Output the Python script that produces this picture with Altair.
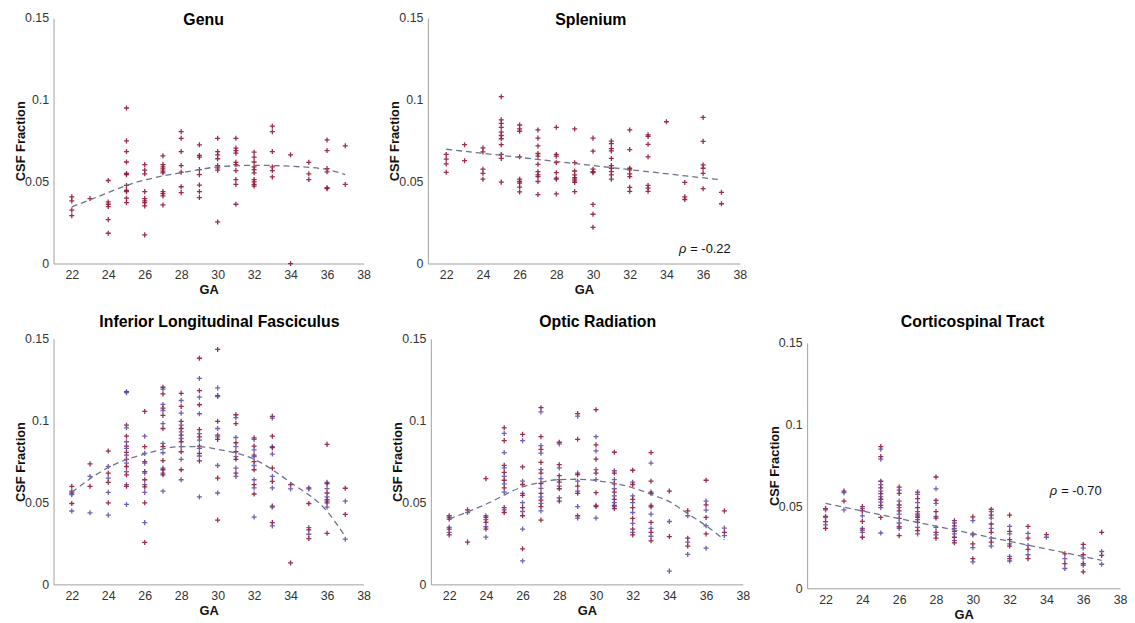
import altair as alt
import pandas as pd

GA_TICKS = list(range(22, 39, 2))
Y_TICKS = [0, 0.05, 0.1, 0.15]

RED = "#921739"
PURPLE = "#6350a6"
FIT_COLOR = "#6b7390"
PLUS = "M-1,0L1,0M0,-1L0,1"
FONT = "Liberation Sans"

# ---------------- data ----------------
GENU = {
    22: [0.0407, 0.0382, 0.0326, 0.0292],
    23: [0.0397],
    24: [0.0507, 0.0376, 0.0362, 0.0348, 0.0268, 0.0185],
    25: [0.095, 0.0749, 0.0684, 0.062, 0.055, 0.0543, 0.0477, 0.0447, 0.0439, 0.0399, 0.0372],
    26: [0.0604, 0.057, 0.0548, 0.0439, 0.0397, 0.0382, 0.0372, 0.0352, 0.0175],
    27: [0.0658, 0.0604, 0.059, 0.0578, 0.0564, 0.0554, 0.0439, 0.0427, 0.0413, 0.0358],
    28: [0.0805, 0.0765, 0.0684, 0.0598, 0.0558, 0.0469, 0.0433],
    29: [0.0725, 0.066, 0.065, 0.0574, 0.0543, 0.0479, 0.0439, 0.0403],
    30: [0.0765, 0.0684, 0.0664, 0.064, 0.0598, 0.0584, 0.057, 0.0254],
    31: [0.0765, 0.0705, 0.069, 0.0674, 0.0618, 0.0604, 0.0568, 0.0513, 0.0483, 0.0362],
    32: [0.068, 0.065, 0.062, 0.059, 0.0574, 0.0554, 0.0513, 0.0499, 0.0483, 0.0473],
    33: [0.0839, 0.0805, 0.0684, 0.059, 0.0568, 0.0529],
    34: [0.0664, 0.0],
    35: [0.0618, 0.0548, 0.0513],
    36: [0.0755, 0.069, 0.058, 0.056, 0.0463, 0.0457],
    37: [0.0719, 0.0483],
}
GENU_FIT_GA = [22, 24, 25, 27, 28, 30, 32, 34, 36, 37]
GENU_FIT = [0.0346, 0.0433, 0.0477, 0.0535, 0.0554, 0.059, 0.060, 0.0594, 0.0574, 0.0543]

SPLENIUM = {
    22: [0.0666, 0.0638, 0.0608, 0.0557],
    23: [0.0726, 0.0628],
    24: [0.0706, 0.0682, 0.0576, 0.0551, 0.0515],
    25: [0.1019, 0.0878, 0.0856, 0.0832, 0.0802, 0.0782, 0.0762, 0.0726, 0.0666, 0.0642, 0.0497],
    26: [0.0846, 0.0822, 0.0808, 0.0652, 0.0515, 0.0501, 0.0491, 0.0467, 0.0437],
    27: [0.0816, 0.0766, 0.0718, 0.0672, 0.0656, 0.0606, 0.0561, 0.0541, 0.0531, 0.0501, 0.0421],
    28: [0.0832, 0.0666, 0.0656, 0.0616, 0.0555, 0.0521, 0.0515, 0.0425],
    29: [0.0822, 0.0616, 0.0565, 0.0541, 0.0525, 0.0515, 0.0505, 0.0495, 0.0439],
    30: [0.0766, 0.0686, 0.0576, 0.0561, 0.0555, 0.0361, 0.0301, 0.0221],
    31: [0.0748, 0.0732, 0.0702, 0.0688, 0.0642, 0.0598, 0.0582, 0.0561, 0.0541, 0.0515],
    32: [0.0816, 0.0696, 0.0582, 0.0572, 0.0547, 0.0531, 0.0465, 0.0441],
    33: [0.0786, 0.0776, 0.0728, 0.0652, 0.0477, 0.0461, 0.0441],
    34: [0.0866],
    35: [0.0495, 0.0407, 0.0391],
    36: [0.0892, 0.0746, 0.0602, 0.0582, 0.0551, 0.0457],
    37: [0.0435, 0.0365],
}
SPLENIUM_FIT_GA = [22, 37]
SPLENIUM_FIT = [0.0698, 0.0511]
SPLENIUM_RHO = (35.3, 0.0088, "= -0.22")

ILF = {
    22: [0.0599, 0.0569, 0.0558, 0.0548, 0.0494, 0.0448],
    23: [0.0736, 0.0659, 0.0599, 0.0437],
    24: [0.0814, 0.072, 0.0679, 0.0649, 0.0623, 0.0562, 0.0498, 0.0423],
    25: [0.1177, 0.1171, 0.0972, 0.0956, 0.0905, 0.0871, 0.0845, 0.0831, 0.0806,
         0.079, 0.0764, 0.074, 0.072, 0.0689, 0.0669, 0.0609, 0.0599, 0.0488],
    26: [0.1056, 0.0905, 0.0841, 0.08, 0.075, 0.074, 0.0689, 0.0679, 0.0639, 0.0609,
         0.0595, 0.0562, 0.0498, 0.0377, 0.0256],
    27: [0.1204, 0.1193, 0.1163, 0.1099, 0.1077, 0.1062, 0.1032, 0.0982, 0.0952,
         0.0861, 0.0841, 0.0804, 0.0756, 0.071, 0.07, 0.0679, 0.0669, 0.0569],
    28: [0.1167, 0.1123, 0.1087, 0.1046, 0.0996, 0.0972, 0.0952, 0.0931, 0.0911,
         0.0891, 0.0871, 0.0841, 0.081, 0.0764, 0.07, 0.0639],
    29: [0.1381, 0.1258, 0.1183, 0.1143, 0.1097, 0.1042, 0.0945, 0.0921, 0.0901,
         0.0881, 0.0845, 0.0831, 0.08, 0.0784, 0.0754, 0.0534],
    30: [0.1435, 0.12, 0.1153, 0.1147, 0.0996, 0.0952, 0.0911, 0.0901, 0.0885,
         0.0726, 0.0649, 0.0558, 0.0393],
    31: [0.1036, 0.1018, 0.0982, 0.0897, 0.0865, 0.0841, 0.081, 0.078, 0.0764,
         0.071, 0.0679, 0.0659],
    32: [0.0895, 0.0885, 0.0845, 0.0821, 0.079, 0.078, 0.075, 0.0726, 0.07, 0.0639,
         0.0609, 0.0589, 0.0552, 0.0411],
    33: [0.1026, 0.1016, 0.0905, 0.0841, 0.0835, 0.0796, 0.071, 0.0659, 0.0629,
         0.0589, 0.0478, 0.0472, 0.0377, 0.0357],
    34: [0.0609, 0.0583, 0.0131],
    35: [0.0589, 0.0583, 0.0494, 0.0347, 0.0333, 0.0306, 0.028],
    36: [0.0855, 0.0623, 0.0615, 0.0585, 0.0558, 0.0534, 0.0518, 0.0508, 0.0498,
         0.0472, 0.0312],
    37: [0.0587, 0.0508, 0.0427, 0.0276],
}
ILF_FIT_GA = [22, 24, 26, 28, 29, 30, 32, 34, 36, 37]
ILF_FIT = [0.0562, 0.0714, 0.0796, 0.0841, 0.0841, 0.0825, 0.0764, 0.0622, 0.0446, 0.0292]

OPTIC = {
    22: [0.0419, 0.0409, 0.0399, 0.0348, 0.0338, 0.0318, 0.0302],
    23: [0.0455, 0.0439, 0.0258],
    24: [0.0646, 0.0419, 0.0409, 0.0395, 0.0378, 0.0352, 0.0338, 0.0288],
    25: [0.0956, 0.0922, 0.0878, 0.0805, 0.0727, 0.0711, 0.0684, 0.066, 0.0636,
         0.0614, 0.059, 0.0564, 0.0469, 0.0455, 0.0439],
    26: [0.0916, 0.0878, 0.0717, 0.063, 0.061, 0.0556, 0.0544, 0.0499, 0.0469,
         0.0445, 0.0419, 0.0338, 0.0217, 0.0143],
    27: [0.1079, 0.1053, 0.0902, 0.0848, 0.0825, 0.0801, 0.0745, 0.0701, 0.068,
         0.0646, 0.0616, 0.0586, 0.0556, 0.0535, 0.0515, 0.0495, 0.0475, 0.0449, 0.0393],
    28: [0.0868, 0.0858, 0.0731, 0.0711, 0.0664, 0.064, 0.0624, 0.06, 0.0584,
         0.0529, 0.0509],
    29: [0.1043, 0.1027, 0.0886, 0.068, 0.067, 0.063, 0.06, 0.057, 0.0556, 0.0475,
         0.0419, 0.0405],
    30: [0.1067, 0.0902, 0.0852, 0.0815, 0.0765, 0.0701, 0.068, 0.064, 0.056,
         0.0483, 0.0475, 0.0405],
    31: [0.0807, 0.0694, 0.068, 0.064, 0.0614, 0.0584, 0.0564, 0.054, 0.0519,
         0.0499, 0.0483, 0.0475, 0.0463],
    32: [0.0697, 0.0624, 0.061, 0.054, 0.0519, 0.0499, 0.0469, 0.0439, 0.0403,
         0.0372, 0.0338, 0.0318, 0.0302],
    33: [0.0805, 0.0741, 0.063, 0.0564, 0.0556, 0.0483, 0.0473, 0.0429, 0.0378,
         0.0342, 0.0318, 0.0294, 0.0266],
    34: [0.057, 0.0384, 0.0292, 0.0081],
    35: [0.0449, 0.0419, 0.0282, 0.0258, 0.0234, 0.0183],
    36: [0.0636, 0.0509, 0.0485, 0.0453, 0.0409, 0.0358, 0.0308, 0.0221],
    37: [0.0449, 0.0344, 0.0318, 0.0298],
}
OPTIC_FIT_GA = [22, 24, 26, 27, 28, 29, 30, 32, 33, 34, 35, 36, 37]
OPTIC_FIT = [0.0399, 0.0489, 0.0596, 0.0624, 0.064, 0.0642, 0.0634, 0.059, 0.055,
             0.0505, 0.0432, 0.0358, 0.0272]

CST = {
    22: [0.0487, 0.0479, 0.0439, 0.0433, 0.0407, 0.0387, 0.0366],
    23: [0.0594, 0.0584, 0.0533, 0.0479],
    24: [0.0499, 0.0487, 0.0473, 0.0443, 0.0409, 0.0366, 0.0356, 0.0342, 0.0312],
    25: [0.0866, 0.085, 0.0805, 0.0789, 0.0654, 0.0634, 0.0614, 0.0594, 0.0578,
         0.056, 0.0544, 0.0527, 0.0507, 0.0493, 0.0433, 0.0338],
    26: [0.0618, 0.06, 0.058, 0.0533, 0.0509, 0.0493, 0.0473, 0.0453, 0.0427,
         0.0399, 0.0376, 0.0366, 0.0322],
    27: [0.0588, 0.0574, 0.0548, 0.0523, 0.0493, 0.0469, 0.0453, 0.0443, 0.0433,
         0.0419, 0.0403, 0.0372, 0.0352, 0.0332],
    28: [0.068, 0.0608, 0.0537, 0.0519, 0.0469, 0.0439, 0.0429, 0.0372, 0.0342,
         0.0326, 0.0306],
    29: [0.0413, 0.0399, 0.0382, 0.0366, 0.0348, 0.0332, 0.0312, 0.0292, 0.0278],
    30: [0.0437, 0.0413, 0.0332, 0.0326, 0.0272, 0.0248, 0.0181, 0.0161],
    31: [0.0483, 0.0469, 0.0447, 0.0429, 0.0393, 0.0366, 0.0342, 0.0306, 0.0282, 0.0258],
    32: [0.0447, 0.0378, 0.0348, 0.0332, 0.0298, 0.0272, 0.0258, 0.0195, 0.0181, 0.0167],
    33: [0.0378, 0.0336, 0.0306, 0.0262, 0.0238, 0.0205, 0.0181],
    34: [0.0328, 0.0312],
    35: [0.0211, 0.0181, 0.0151, 0.0121],
    36: [0.0268, 0.0246, 0.0205, 0.0185, 0.0151, 0.0141, 0.0101],
    37: [0.0342, 0.0225, 0.0201, 0.0147],
}
CST_FIT_GA = [22, 37]
CST_FIT = [0.0519, 0.0171]
CST_RHO = (34.8, 0.0592, "= -0.70")


def panel(title, pts, fit_ga, fit_val, width, two=False, rho=None,
          title_offset=0, title_dx=0, top_gap=0):
    rows = []
    for ga, vals in pts.items():
        for i, v in enumerate(vals):
            rows.append({"GA": ga, "CSF": v, "s": "B" if (two and i % 2 == 1) else "A"})
    df = pd.DataFrame(rows)
    h = 248 + top_gap
    x = alt.X("GA:Q", scale=alt.Scale(domain=[21, 38], nice=False, zero=False),
              axis=alt.Axis(values=GA_TICKS, format="d", title="GA", labelOverlap=False,
                            labelFlush=False))
    y = alt.Y("CSF:Q", scale=alt.Scale(domain=[0, 0.15], nice=False, range=[h, top_gap]),
              axis=alt.Axis(values=Y_TICKS, format=".2~f", title="CSF Fraction",
                            labelOverlap=False, labelFlush=False))
    scatter = alt.Chart(df).mark_point(
        shape=PLUS, filled=False, size=26, strokeWidth=1.3, opacity=0.9
    ).encode(
        x=x, y=y,
        color=alt.Color("s:N", scale=alt.Scale(domain=["A", "B"], range=[RED, PURPLE]),
                        legend=None),
    )
    fit_df = pd.DataFrame({"GA": fit_ga, "CSF": fit_val})
    fit = alt.Chart(fit_df).mark_line(
        strokeDash=[6, 4], color=FIT_COLOR, strokeWidth=1.3, interpolate="monotone"
    ).encode(x=x, y=y)
    layers = [scatter, fit]
    if rho is not None:
        rdf = pd.DataFrame({"GA": [rho[0]], "CSF": [rho[1]], "t": [rho[2]]})
        layers.append(alt.Chart(rdf).mark_text(
            align="left", baseline="middle", font=FONT, fontSize=13, color="#111"
        ).encode(x=x, y=y, text="t:N"))
        layers.append(alt.Chart(rdf).mark_text(
            align="right", baseline="middle", font=FONT, fontSize=13, fontStyle="italic",
            color="#111", dx=-4
        ).encode(x=x, y=y, text=alt.value("ρ")))
    return alt.layer(*layers).properties(
        width=width, height=h,
        title=alt.TitleParams(title, font=FONT, fontSize=16, fontWeight="bold",
                              color="#000", baseline="alphabetic",
                              offset=title_offset, dx=title_dx, anchor="middle"),
    )


p1 = panel("Genu", GENU, GENU_FIT_GA, GENU_FIT, 313, title_offset=-28.7, title_dx=-5)
p2 = panel("Splenium", SPLENIUM, SPLENIUM_FIT_GA, SPLENIUM_FIT, 315, rho=SPLENIUM_RHO,
           title_offset=-28.7, title_dx=7)
p3 = panel("Inferior Longitudinal Fasciculus", ILF, ILF_FIT_GA, ILF_FIT, 313, two=True,
           title_offset=-10, title_dx=11)
p4 = panel("Optic Radiation", OPTIC, OPTIC_FIT_GA, OPTIC_FIT, 315, two=True,
           title_offset=-10, title_dx=11)
p5 = panel("Corticospinal Tract", CST, CST_FIT_GA, CST_FIT, 316, two=True, rho=CST_RHO,
           title_offset=-6, title_dx=9, top_gap=4)

row1 = alt.hconcat(p1, p2, spacing=18)
row2 = alt.hconcat(alt.hconcat(p3, p4, spacing=21), p5, spacing=18)

chart = alt.vconcat(row1, row2, spacing=17).properties(
    padding={"left": 6, "top": 0, "right": 0, "bottom": 0}
).configure_view(stroke=None).configure_axis(
    grid=False, ticks=False, domainColor="#a0a0a0", domainWidth=1,
    labelFont=FONT, labelFontSize=12.5, labelColor="#333", labelPadding=5,
    labelOverlap=False, labelFlush=False,
    titleFont=FONT, titleFontSize=13, titleFontWeight="bold", titleColor="#111",
).configure_axisX(titlePadding=3).configure_axisY(titlePadding=-3)

chart.save("out.html", embed_options={"renderer": "svg", "actions": False})
